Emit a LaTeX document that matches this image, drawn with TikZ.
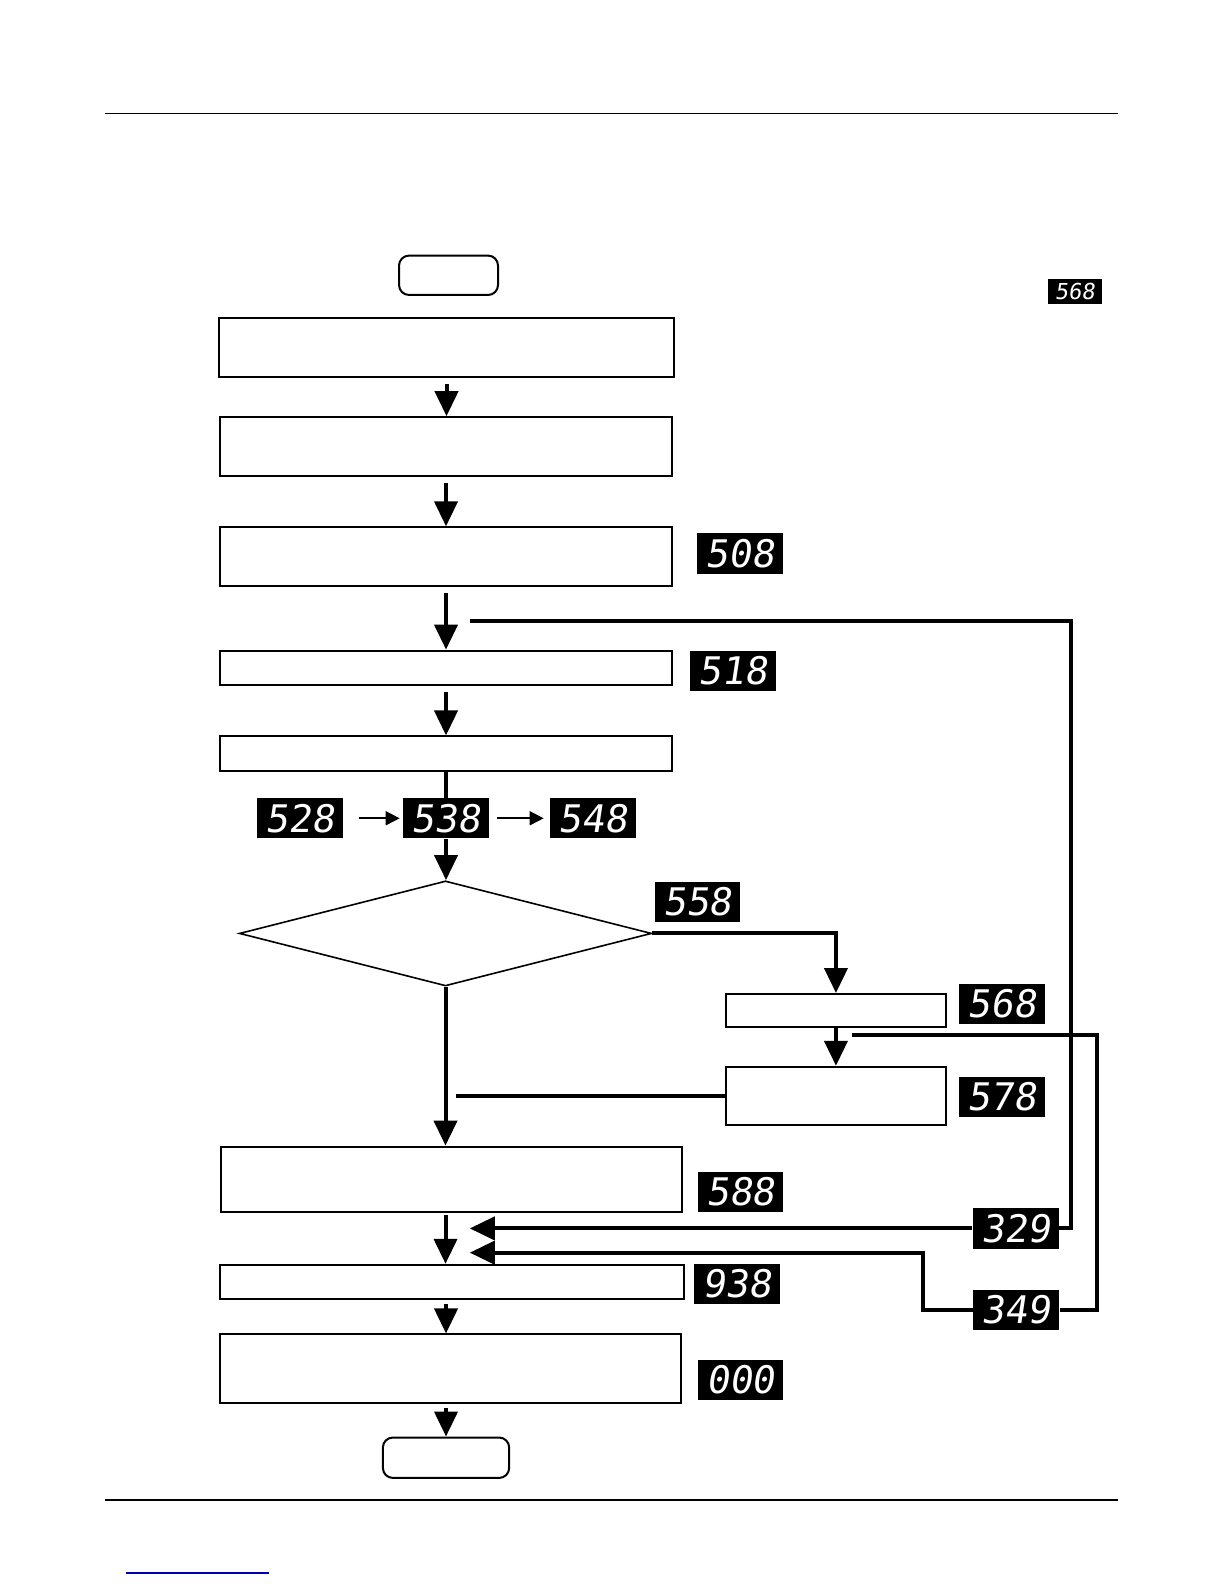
\documentclass[tikz,border=0pt]{standalone}
\usepackage{fontspec}
\usetikzlibrary{arrows.meta,shapes.geometric}
\newfontfamily\segfont[FakeSlant=0.15]{DejaVu Sans Mono}

\begin{document}
\begin{tikzpicture}[x=0.505pt,y=-0.505pt,
  box/.style={draw,line width=1pt,inner sep=0pt},
  disp/.style={fill=black,text=white,inner sep=0pt,minimum width=85*0.505pt,minimum height=40*0.505pt,font=\segfont\fontsize{19}{19}\selectfont},
  flow/.style={line width=2pt,-{Triangle[length=12.5pt,width=11.5pt]}},
  loopline/.style={line width=2pt},
  thinflow/.style={line width=0.8pt,-{Triangle[length=7pt,width=7pt]}}]

  % Unit of one pixel
  \def\px{0.505pt}

  % Page size
  \useasboundingbox (0,0) rectangle (1212,1568);

  % Header and footer rules
  \draw[line width=0.6pt] (104,112) -- (1107,112);
  \draw[line width=1.2pt] (104,1485) -- (1107,1485);
  \draw[blue!70!black, line width=0.7pt] (125,1557) -- (266,1557);

  % Terminals
  \node[box, rounded corners=5pt, minimum width=98*\px, minimum height=39*\px] (start) at (444,272.5) {};
  \node[box, rounded corners=5pt, minimum width=125*\px, minimum height=40*\px] (end) at (441.5,1443) {};

  % Main column of steps
  \node[box, minimum width=450*\px, minimum height=58*\px] (b1) at (442,344) {};
  \node[box, minimum width=447*\px, minimum height=58*\px] (b2) at (441.5,442) {};
  \node[box, minimum width=447*\px, minimum height=58*\px] (b3) at (441.5,551) {};
  \node[box, minimum width=447*\px, minimum height=34*\px] (b4) at (441.5,661) {};
  \node[box, minimum width=447*\px, minimum height=34*\px] (b5) at (441.5,746) {};
  \node[draw, diamond, line width=0.8pt, inner sep=0pt,
        minimum width=408*\px, minimum height=104*\px] (dia) at (441,924) {};
  \node[box, minimum width=456*\px, minimum height=65*\px] (b8) at (447,1167.5) {};
  \node[box, minimum width=459*\px, minimum height=34*\px] (b9) at (447.5,1269) {};
  \node[box, minimum width=456*\px, minimum height=68*\px] (b10) at (446,1355) {};

  % Side branch
  \node[box, minimum width=217*\px, minimum height=33*\px] (b6) at (827.5,1000.5) {};
  \node[box, minimum width=217*\px, minimum height=58*\px] (b7) at (827.5,1085) {};

  % Displays
  \node[disp, minimum width=54*\px, minimum height=25*\px,
        font=\segfont\fontsize{11}{11}\selectfont] (dtop) at (1064,288.5) {568};
  \node[disp] (d508) at (732.5,548) {508};
  \node[disp] (d518) at (725.5,664) {518};
  \node[disp] (d528) at (297,810) {528};
  \node[disp] (d538) at (441.5,810) {538};
  \node[disp] (d548) at (587,810) {548};
  \node[disp] (d558) at (690.5,893) {558};
  \node[disp] (d568) at (991.5,994) {568};
  \node[disp] (d578) at (991.5,1086) {578};
  \node[disp] (d588) at (733,1180) {588};
  \node[disp] (d329) at (1005.5,1216) {329};
  \node[disp] (d938) at (729.5,1271) {938};
  \node[disp] (d349) at (1006,1296.5) {349};
  \node[disp] (d000) at (733,1366) {000};

  % Joints and arrow ends of the loops
  \coordinate (l1) at (465,615);
  \coordinate (l2) at (843,1025);
  \coordinate (j1) at (451,1081);
  \coordinate (a1) at (465,1216);
  \coordinate (k2) at (914,1240);
  \coordinate (a2) at (465,1240);

  % Main flow
  \draw[flow, shorten <=3pt] (b1.south) -- (b1.south |- b2.north);
  \draw[flow, shorten <=3pt] (b2.south) -- (b3.north);
  \draw[flow, shorten <=3pt] (b3.south) -- (b4.north);
  \draw[flow, shorten <=3pt] (b4.south) -- (b5.north);
  \draw[loopline] (b5.south) -- (d538.north);
  \draw[flow] (d538.south) -- (d538.south |- dia.north);
  \draw[flow] (dia.south) -- (dia.south |- b8.north);
  \draw[flow, shorten <=1pt] (dia.south |- b8.south) -- (dia.south |- b9.north);
  \draw[flow, shorten <=2pt] (b9.south -| end.north) -- (end.north |- b10.north);
  \draw[flow, shorten <=2pt] (b10.south -| end.north) -- (end.north);

  % Branch to the right
  \draw[flow] (dia.east) -| (b6.north);
  \draw[flow] (b6.south) -- (b7.north);
  \draw[loopline] (b7.west) -- (j1 |- b7.west);

  % Display sequence
  \draw[thinflow, shorten <=8pt, shorten >=1.5pt] (d528) -- (d538);
  \draw[thinflow, shorten <=4pt, shorten >=3pt] (d538) -- (d548);

  % Return loops
  \draw[loopline] (l1) -- (1060,615) |- (d329.east);
  \draw[loopline] (l2) -- (1086,1025) |- (d349.east);
  \draw[flow] (d329.west) -- (a1);
  \draw[flow] (d349.west) -| (k2) -- (a2);

\end{tikzpicture}
\end{document}
